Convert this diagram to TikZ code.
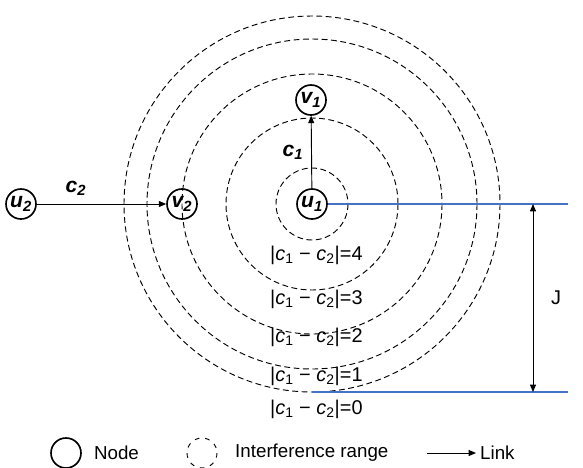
\documentclass[tikz,border=0pt]{standalone}
\usepackage{fontspec}
\setmainfont{Liberation Sans}
\usetikzlibrary{arrows.meta, positioning}
\definecolor{tieblue}{HTML}{4472C4}
\newcommand{\cdiff}[1]{|\textit{c}\textsubscript{1} − \textit{c}\textsubscript{2}|=#1}
\tikzset{
  vnode/.style={circle, draw, line width=1.4pt, minimum size=0.9cm,
    inner sep=0pt, font=\fontsize{18}{18}\selectfont\bfseries\itshape},
  irange/.style={draw, line width=0.8pt, dash pattern=on 5pt off 3pt},
  link/.style={-{Triangle[length=2.2mm, width=1.8mm]}, line width=0.8pt},
  tie/.style={tieblue, line width=0.9pt},
  lbl/.style={font=\fontsize{17}{17}\selectfont, inner sep=0pt},
  leg/.style={font=\fontsize{16}{16}\selectfont, inner sep=0pt},
  clbl/.style={font=\fontsize{18}{18}\selectfont\bfseries\itshape, inner sep=0pt},
}

\begin{document}
\begin{tikzpicture}[x=0.03cm, y=-0.03cm]
  \useasboundingbox (0,0) rectangle (583,467);

  % interference ranges around u1
  \foreach \r in {36, 86, 130, 165, 188}
    \draw[irange] (312,204) circle[radius=\r];

  % nodes
  \node[vnode] (u1) at (312,204) {u\textsubscript{1}};
  \node[vnode] (v1) at (311,100) {v\textsubscript{1}};
  \node[vnode] (u2) at (21,204) {u\textsubscript{2}};
  \node[vnode] (v2) at (182,204) {v\textsubscript{2}};

  % links
  \draw[link] (u1) -- (v1);
  \draw[link] (u2) -- (v2);
  \node[clbl] (c1) at (293,152) {c\textsubscript{1}};
  \node[clbl] (c2) at (76,188) {c\textsubscript{2}};

  % channel separation labels
  \node[lbl, anchor=west] (d4) at (270,255) {\cdiff{4}};
  \node[lbl, anchor=west] (d3) at (270,299) {\cdiff{3}};
  \node[lbl, anchor=west] (d2) at (270,337) {\cdiff{2}};
  \node[lbl, anchor=west] (d1) at (270,376) {\cdiff{1}};
  \node[lbl, anchor=west] (d0) at (270,409) {\cdiff{0}};

  % distance J
  \coordinate (ttop) at (568,204);
  \coordinate (tbot) at (568,392);
  \coordinate (lbot) at (312,392);
  \coordinate (jtop) at (533,204);
  \coordinate (jbot) at (533,392);
  \draw[tie] (u1.east) -- (ttop);
  \draw[tie] (lbot) -- (tbot);
  \draw[link, {Triangle[length=2.2mm, width=1.8mm]}-{Triangle[length=2.2mm, width=1.8mm]}] (jtop) -- (jbot);
  \node[lbl] (j) at (556,298) {J};

  % legend
  \node[vnode] (lnode) at (66,453) {};
  \node[leg, anchor=west, right=12 of lnode] (tnode) {Node};
  \draw[irange, dash pattern=on 4pt off 5pt] (202,453) circle[radius=15];
  \coordinate (lrange) at (217,453);
  \node[leg, anchor=west, right=18 of lrange] (trange) {Interference range};
  \coordinate (la) at (427,453);
  \coordinate (lb) at (476,453);
  \draw[link] (la) -- (lb);
  \node[leg, anchor=west, right=4 of lb] (tlink) {Link};
\end{tikzpicture}
\end{document}
